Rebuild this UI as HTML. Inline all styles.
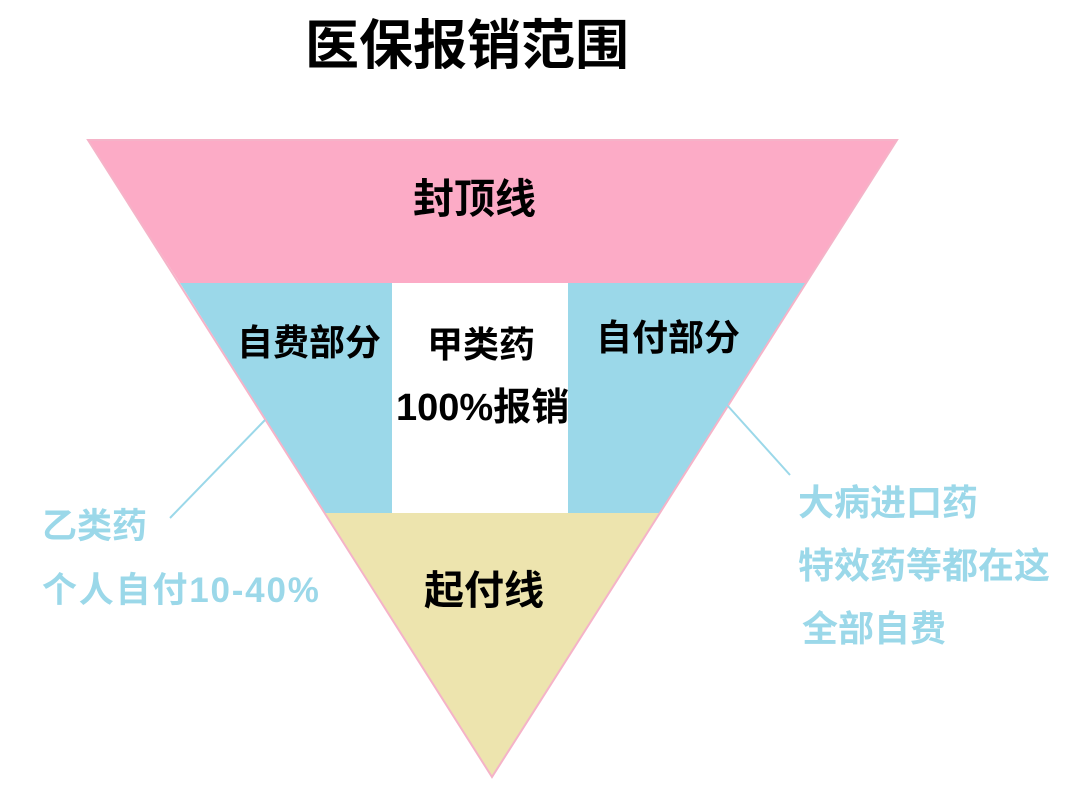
<!DOCTYPE html>
<html><head><meta charset="utf-8"><style>
body{margin:0;background:#fff;width:1081px;height:807px;overflow:hidden;position:relative;font-family:"Liberation Sans","Noto Sans CJK SC",sans-serif;font-weight:bold}
.t{position:absolute;white-space:nowrap;line-height:1}
</style></head><body>
<svg width="1081" height="807" style="position:absolute;left:0;top:0">
<polygon points="88,140 897,140 806,283 180,283" fill="#fcabc6"/>
<polygon points="180,283 806,283 660,513 325,513" fill="#9bd8e9"/>
<rect x="392" y="283" width="176" height="230" fill="#fff"/>
<polygon points="325,513 660,513 492,777" fill="#ede4ae"/>
<polygon points="88,140 897,140 492,777" fill="none" stroke="#f5b3c8" stroke-width="2"/>
<line x1="170" y1="518" x2="265" y2="420" stroke="#9bd8e9" stroke-width="2"/>
<line x1="727" y1="405" x2="790" y2="475" stroke="#9bd8e9" stroke-width="2"/>
</svg>
<div class="t" style="left:305px;top:19px;font-size:54px;color:#000">医保报销范围</div>
<div class="t" style="left:413px;top:179px;font-size:41px">封顶线</div>
<div class="t" style="left:237px;top:325px;font-size:36px">自费部分</div>
<div class="t" style="left:427px;top:327px;font-size:36px">甲类药</div>
<div class="t" style="left:396px;top:389px;font-size:38px">100%报销</div>
<div class="t" style="left:596px;top:320px;font-size:36px">自付部分</div>
<div class="t" style="left:424px;top:571px;font-size:40px">起付线</div>
<div class="t" style="left:42px;top:509px;font-size:35px;color:#9bd8e9">乙类药</div>
<div class="t" style="left:42px;top:573px;font-size:35px;color:#9bd8e9;letter-spacing:1.8px">个人自付10-40%</div>
<div class="t" style="left:798px;top:485px;font-size:36px;color:#9bd8e9">大病进口药</div>
<div class="t" style="left:798px;top:548px;font-size:36px;color:#9bd8e9">特效药等都在这</div>
<div class="t" style="left:802px;top:611px;font-size:36px;color:#9bd8e9">全部自费</div>
</body></html>
